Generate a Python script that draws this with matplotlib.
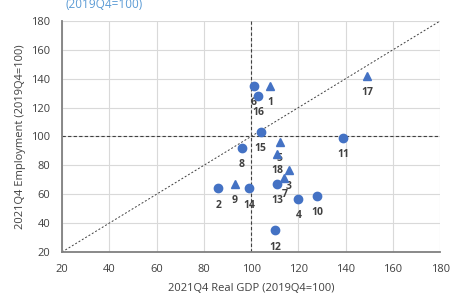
import matplotlib
matplotlib.use("Agg")
import matplotlib.pyplot as plt

plt.rcParams['font.family'] = ['Open Sans', 'DejaVu Sans']

# Data
labels = ["1", "2", "3", "4", "5", "6", "7", "8", "9", "10",
          "11", "12", "13", "14", "15", "16", "17", "18"]
gdp = [108, 86, 116, 120, 112, 101, 114, 96, 93, 128,
       139, 110, 111, 99, 104, 103, 149, 111]
emp = [135, 64, 77, 57, 96, 135, 71, 92, 67, 59,
       99, 35, 67, 64, 103, 128, 142, 88]
shape = ["tri", "circ", "tri", "circ", "tri", "circ", "tri", "circ", "tri", "circ",
         "circ", "circ", "circ", "circ", "circ", "circ", "tri", "tri"]
ticks = [20, 40, 60, 80, 100, 120, 140, 160, 180]

blue = "#4472C4"
txt = "#404040"

fig = plt.figure(figsize=(4.52, 2.93), dpi=100)
ax = fig.add_axes([0.1372, 0.1399, 0.8371, 0.7891])

ax.set_xlim(20, 180)
ax.set_ylim(20, 180)
ax.set_xticks(ticks)
ax.set_yticks(ticks)
ax.grid(True, color="#d9d9d9", linewidth=0.8)
ax.set_axisbelow(True)
for s in ["top", "right"]:
    ax.spines[s].set_visible(False)
for s in ["left", "bottom"]:
    ax.spines[s].set_color("#808080")
    ax.spines[s].set_linewidth(1.3)
ax.tick_params(length=0, labelsize=8, colors=txt, pad=8.5)

ax.axvline(100, color="#404040", linestyle=(0, (3, 2)), linewidth=0.8, zorder=2)
ax.axhline(100, color="#404040", linestyle=(0, (3, 2)), linewidth=0.8, zorder=2)
ax.plot([20, 180], [20, 180], color="#404040", linestyle=(0, (2, 2)), linewidth=0.7, zorder=2)

for lab, x, y, sh in zip(labels, gdp, emp, shape):
    m = "^" if sh == "tri" else "o"
    ms = 6.3 if sh == "tri" else 6.0
    ax.plot([x], [y], marker=m, markersize=ms, color=blue, linestyle="none", zorder=3)
    ax.annotate(lab, (x, y), xytext=(0, -12), textcoords="offset points",
                ha="center", va="center", fontsize=7.5, fontweight="bold", color=txt)

ax.set_xlabel("2021Q4 Real GDP (2019Q4=100)", fontsize=8, color=txt, labelpad=6)
ax.set_ylabel("2021Q4 Employment (2019Q4=100)", fontsize=8, color=txt, labelpad=4)

fig.text(0.144, 0.974, "(2019Q4=100)", fontsize=8.5, color="#5b9bd5", ha="left", va="baseline")

fig.savefig("out.png", dpi=100)
